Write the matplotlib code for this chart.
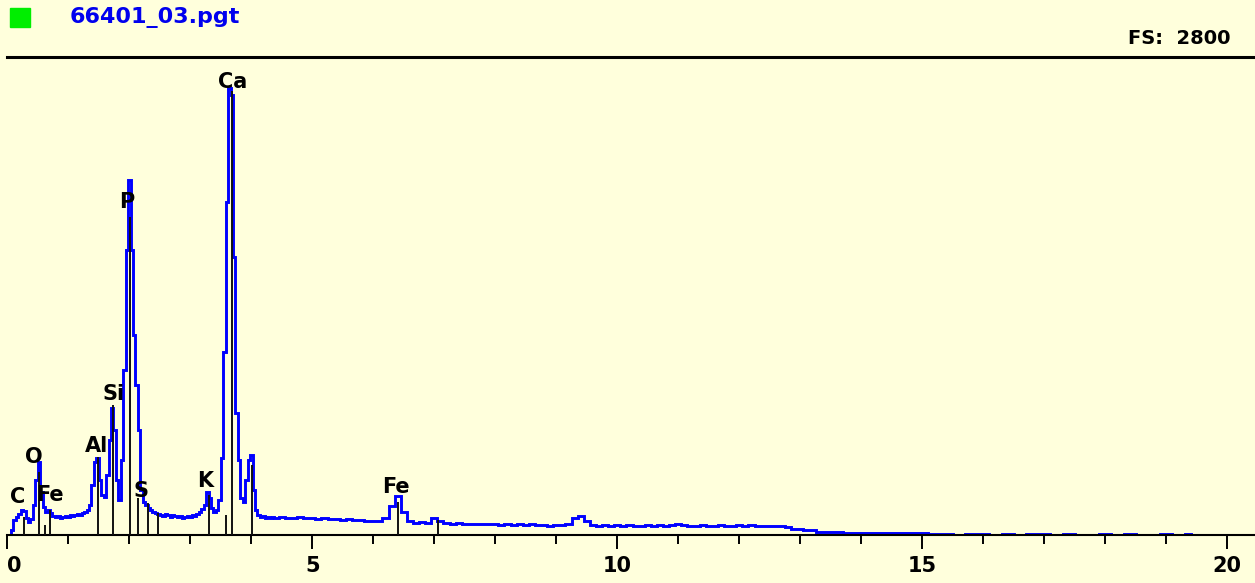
import numpy as np
import matplotlib
matplotlib.use("Agg")
import matplotlib.pyplot as plt
from matplotlib.patches import Rectangle
from matplotlib.ticker import MultipleLocator

# ---------------- data ----------------
title_text = "66401_03.pgt"
full_scale = 2800

# spectrum segment 1: 0.04 .. 4.36 keV, 0.04 keV channels
seg1_start, seg1_step = 0.04, 0.04
seg1_counts = [0, 29, 88, 105, 123, 146, 140, 100, 76, 94,
               176, 322, 428, 252, 164, 135, 146, 129, 111, 105,
               111, 100, 105, 111, 105, 117, 111, 117, 123, 117,
               129, 135, 146, 176, 293, 428, 451, 322, 234, 223,
               351, 556, 744, 615, 322, 205, 440, 967, 1670, 2080,
               1670, 1172, 879, 615, 264, 193, 176, 158, 146, 135,
               129, 123, 117, 111, 123, 117, 105, 117, 111, 105,
               111, 100, 105, 111, 105, 117, 111, 123, 135, 152,
               176, 252, 217, 158, 135, 146, 205, 451, 1072, 1951,
               2618, 2578, 1628, 715, 440, 217, 193, 322, 440, 469,
               264, 146, 117, 105, 111, 100, 105, 100, 105]

# spectrum segment 2: 4.4 .. 13.4 keV, 0.1 keV steps
seg2_start, seg2_step = 4.4, 0.1
seg2_counts = [100, 105, 97, 100, 105, 97, 100, 94, 100, 91,
               94, 88, 91, 85, 88, 82, 80, 82, 97, 170,
               228, 135, 80, 72, 76, 72, 97, 82, 70, 66,
               70, 64, 66, 62, 66, 62, 64, 60, 64, 60,
               62, 58, 62, 58, 60, 55, 58, 58, 66, 100,
               111, 82, 60, 55, 58, 55, 56, 53, 58, 55,
               53, 56, 53, 58, 55, 58, 66, 58, 55, 53,
               56, 53, 55, 58, 55, 53, 56, 55, 58, 53,
               55, 52, 53, 50, 47, 35, 35, 32, 29, 18,
               18]

# spectrum segment 3: 13.6 .. 19.4 keV, 0.2 keV steps
seg3_start, seg3_step = 13.6, 0.2
seg3_counts = [15, 12, 12, 10, 10, 9, 9, 9, 8,
               6, 0, 6, 6, 0, 6, 0, 6, 6, 0, 6, 0, 0, 6, 0, 6, 0, 0, 6, 0, 6]

# element line markers (keV, marker height in counts)
marker_energy = [0.277, 0.525, 0.615, 0.705, 1.486, 1.740, 2.013, 2.139,
                 2.307, 2.464, 3.313, 3.590, 3.691, 4.012, 6.400, 7.058]
marker_height = [105, 369, 59, 146, 457, 762, 1863, 217,
                 187, 129, 234, 117, 2600, 410, 193, 88]

# element labels (text, keV, baseline counts)
label_text = ["C", "O", "Fe", "Al", "Si", "P", "S", "K", "Ca", "Fe"]
label_energy = [0.175, 0.43, 0.70, 1.467, 1.741, 1.954, 2.184, 3.241, 3.692, 6.372]
label_base = [187, 422, 199, 486, 791, 1916, 223, 281, 2618, 246]

xtick_major = [0, 5, 10, 15, 20]
xtick_labels = ["0", "5", "10", "15", "20"]

# ---------------- build ----------------
def seg(start, step, vals):
    return start + step * np.arange(len(vals)), np.asarray(vals, float)

e1, c1 = seg(seg1_start, seg1_step, seg1_counts)
e2, c2 = seg(seg2_start, seg2_step, seg2_counts)
e3, c3 = seg(seg3_start, seg3_step, seg3_counts)
energy = np.concatenate([e1, e2, e3])
counts = np.concatenate([c1, c2, c3])

W, H = 1255, 583
bg = "#FFFFDC"
fig = plt.figure(figsize=(W / 100, H / 100), dpi=100, facecolor=bg)

x0_px, xaxis_px, top_px, px_per_kev = 7.3, 535, 57, 61.0
ax = fig.add_axes([x0_px / W, (H - xaxis_px) / H, (W - x0_px) / W, (xaxis_px - top_px) / H])
ax.set_facecolor(bg)
ax.set_xlim(0, (W - x0_px) / px_per_kev)
ax.set_ylim(0, full_scale)

for s in ["left", "right"]:
    ax.spines[s].set_visible(False)
ax.spines["bottom"].set_linewidth(1.5)
ax.spines["top"].set_linewidth(2.2)
ax.spines["bottom"].set_color("black")
ax.spines["top"].set_color("black")

ax.plot(energy, counts, drawstyle="steps-mid", color="#0000FF", lw=2.1, zorder=2,
        clip_on=True, solid_joinstyle="miter")
ax.vlines(marker_energy, 0, marker_height, color="#101010", lw=1.4, zorder=3)

for t, e, b in zip(label_text, label_energy, label_base):
    ax.text(e, b, t, ha="center", va="baseline", fontsize=15, fontweight="bold",
            color="black", zorder=4)

ax.set_yticks([])
ax.set_xticks(xtick_major)
ax.set_xticklabels(xtick_labels)
ax.xaxis.set_minor_locator(MultipleLocator(1))
ax.tick_params(axis="x", which="major", length=10, width=1.4, direction="out",
               pad=5, labelsize=15, colors="black")
ax.tick_params(axis="x", which="minor", length=6.5, width=1.4, direction="out")
for lab in ax.get_xticklabels():
    lab.set_fontweight("bold")
ax.get_xticklabels()[0].set_ha("left")

fig.add_artist(Rectangle((10 / W, 1 - 27 / H), 20 / W, 19 / H,
                         transform=fig.transFigure, color="#00EE00"))
fig.text(70 / W, 1 - 18 / H, title_text, ha="left", va="center",
         color="#0000EE", fontsize=16, fontweight="bold")
fig.text(1230 / W, 1 - 39 / H, "FS:  %d" % full_scale, ha="right", va="center",
         color="black", fontsize=14, fontweight="bold")

fig.savefig("out.png", dpi=100, facecolor=bg)
